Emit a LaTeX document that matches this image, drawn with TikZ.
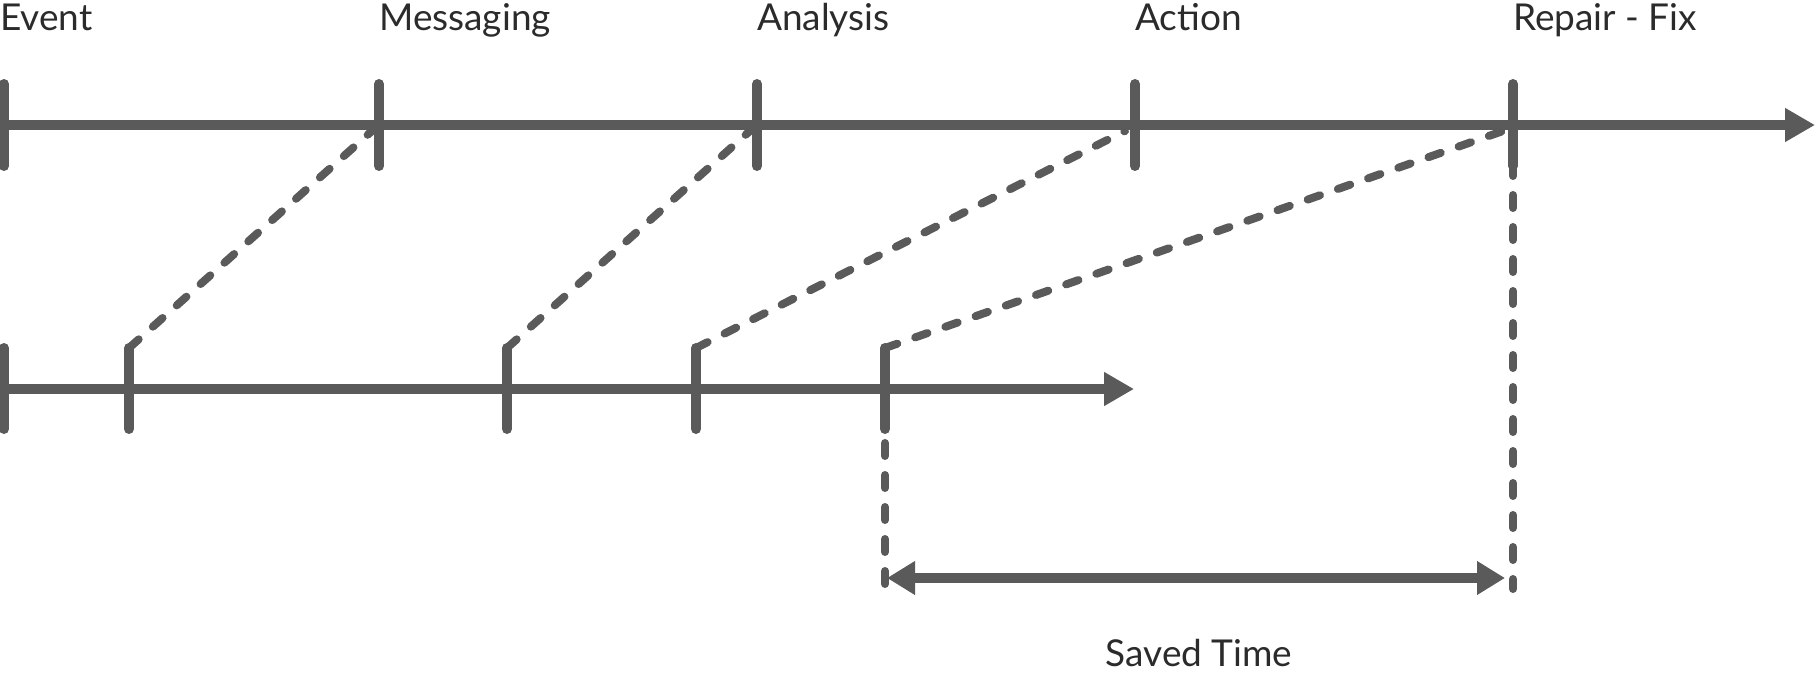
\documentclass[tikz,border=0pt]{standalone}
\usepackage{fontspec}
\setmainfont{Lato}
\usetikzlibrary{arrows.meta}
\definecolor{ln}{HTML}{595A59}
\definecolor{tx}{HTML}{2B2B2B}
\begin{document}
\begin{tikzpicture}[x=1pt,y=-1pt,
  axis/.style={line width=10pt, color=ln, -{Triangle[length=30pt,width=32pt]}},
  tickmark/.style={line width=10pt, line cap=round, color=ln},
  dashline/.style={line width=8pt, line cap=round, color=ln, dash pattern=on 13pt off 19pt},
  span/.style={line width=10pt, color=ln, {Triangle[length=28pt,width=32pt]}-{Triangle[length=28pt,width=32pt]}},
  lbl/.style={anchor=base west, inner sep=0pt, text=tx, font=\fontsize{37pt}{44pt}\selectfont}]
\useasboundingbox (0,0) rectangle (1819,674);
% top axis
\coordinate (t0) at (4,125);
\coordinate (t1) at (379,125);
\coordinate (t2) at (757,125);
\coordinate (t3) at (1135,125);
\coordinate (t4) at (1513,125);
\coordinate (tend) at (1815,125);
\draw[axis] (0,125) -- (tend);
\foreach \n in {t0,t1,t2,t3,t4} {
  \draw[tickmark] ([yshift=41pt]\n) coordinate (\n top) -- ([yshift=-41pt]\n) coordinate (\n bot);
}
% labels
\node[lbl] (lev) at (0,31) {Event};
\node[lbl] (lmsg) at (379,31) {Messaging};
\node[lbl] (lana) at (757,31) {Analysis};
\node[lbl] (lact) at (1135,31) {Action};
\node[lbl] (lrep) at (1513,31) {Repair - Fix};
% bottom axis
\coordinate (b0) at (4,389);
\coordinate (b1) at (129,389);
\coordinate (b2) at (507,389);
\coordinate (b3) at (696,389);
\coordinate (b4) at (885,389);
\coordinate (bend) at (1134,389);
\draw[axis] (0,389) -- (bend);
\foreach \n in {b0,b1,b2,b3,b4} {
  \draw[tickmark] ([yshift=41pt]\n) coordinate (\n top) -- ([yshift=-40pt]\n) coordinate (\n bot);
}
% diagonal dashed links
\draw[dashline] (b1top) -- ([shift={(-6pt,-5pt)}]t1);
\draw[dashline] (b2top) -- ([shift={(-6pt,-5pt)}]t2);
\draw[dashline] (b3top) -- ([shift={(-10pt,-6pt)}]t3);
\draw[dashline] (b4top) -- ([shift={(-10pt,-6pt)}]t4);
% vertical guides
\coordinate (g1) at (885,589);
\coordinate (g2) at (1513,589);
\draw[dashline] ([yshift=-14pt]b4bot) -- (g1);
\draw[dashline, dash phase=7pt] ([yshift=-4pt]t4bot) -- (g2);
% saved time
\coordinate (s1) at (887,578);
\coordinate (s2) at (1505,578);
\draw[span] (s1) -- (s2);
\node[anchor=base, inner sep=0pt, text=tx, font=\fontsize{37pt}{44pt}\selectfont] (lsaved) at (1199,666) {Saved Time};
\end{tikzpicture}
\end{document}
